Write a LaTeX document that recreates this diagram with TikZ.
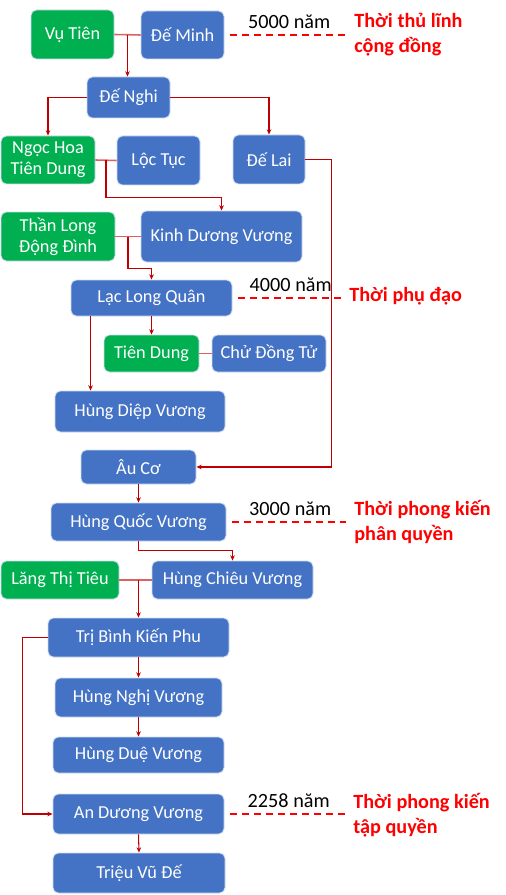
\documentclass[tikz,border=0pt]{standalone}
\usepackage{fontspec}
\setmainfont{Carlito}
\usetikzlibrary{arrows.meta, calc}
\definecolor{boxblue}{RGB}{68,114,196}
\definecolor{boxgreen}{RGB}{0,176,80}
\definecolor{linkred}{RGB}{192,0,0}
\definecolor{tiered}{RGB}{222,96,96}
\definecolor{erared}{RGB}{255,0,0}

\begin{document}
\begin{tikzpicture}[
    x=0.02cm, y=-0.02cm,
    >={Stealth[length=3pt,width=2.6pt]},
    person/.style={draw=white!75!boxblue, line width=0.5pt, rounded corners=3pt,
        text=white, font=\fontsize{10.4}{12}\selectfont, align=center, inner sep=0pt},
    king/.style={person, fill=boxblue},
    queen/.style={person, fill=boxgreen},
    boxsize/.style 2 args={minimum width=#1*0.02cm, minimum height=#2*0.02cm},
    link/.style={->, linkred, line width=0.6pt},
    tie/.style={tiered, line width=0.9pt},
    era/.style={anchor=west, inner sep=0pt, align=left, erared,
        font=\fontsize{11.5}{14.2}\selectfont\bfseries},
    eraline/.style={erared, line width=0.7pt, dash pattern=on 4pt off 2.8pt,
        shorten <=0.12cm, shorten >=0.16cm},
    years/.style={font=\fontsize{11.5}{14}\selectfont, black, inner sep=3pt},
]

\useasboundingbox (0,0) rectangle (505,895);

%============================================================
% Generations (centre x, centre y in px of the page)
%============================================================
\node[queen, boxsize={83}{49}]  (vutien)    at (72.5,34.5)  {Vụ Tiên};
\node[king,  boxsize={83}{48}]  (deminh)    at (182.5,35)   {Đế Minh};
\node[king,  boxsize={83}{41}]  (denghi)    at (128.5,97.5) {Đế Nghi};
\node[queen, boxsize={94}{48}]  (ngochoa)   at (48,160)     {Ngọc Hoa\\Tiên Dung};
\node[king,  boxsize={83}{49}]  (loctuc)    at (158.5,160.5){Lộc Tục};
\node[king,  boxsize={72}{49}]  (delai)     at (269,159.5)  {Đế Lai};
\node[queen, boxsize={114}{49}] (thanlong)  at (58,236.5)   {Thần Long\\Động Đình};
\node[king,  boxsize={161}{51}] (kinhduong) at (221.5,236.5){Kinh Dương Vương};
\node[king,  boxsize={161}{36}] (laclong)   at (151.5,298)  {Lạc Long Quân};
\node[queen, boxsize={95}{37}]  (tiendung)  at (151.5,353.5){Tiên Dung};
\node[king,  boxsize={114}{37}] (chudong)   at (269,353.5)  {Chử Đồng Tử};
\node[king,  boxsize={170}{41}] (hungdiep)  at (140,411.5)  {Hùng Diệp Vương};
\node[king,  boxsize={115}{34}] (auco)      at (138.5,467)  {Âu Cơ};
\node[king,  boxsize={175}{38}] (hungquoc)  at (138.5,522)  {Hùng Quốc Vương};
\node[queen, boxsize={118}{38}] (langthi)   at (60,580)     {Lăng Thị Tiêu};
\node[king,  boxsize={161}{38}] (hungchieu) at (232.5,580)  {Hùng Chiêu Vương};
\node[king,  boxsize={181}{39}] (tribinh)   at (138.5,637.5){Trị Bình Kiến Phu};
\node[king,  boxsize={167}{39}] (hungnghi)  at (138.5,697.5){Hùng Nghị Vương};
\node[king,  boxsize={171}{36}] (hungdue)   at (138.5,755)  {Hùng Duệ Vương};
\node[king,  boxsize={171}{40}] (anduong)   at (138.5,814)  {An Dương Vương};
\node[king,  boxsize={172}{40}] (trieuvu)   at (139,873)    {Triệu Vũ Đế};

%============================================================
% Couples and descent
%============================================================
\draw[tie] (vutien.east) -- (deminh.west);
\coordinate (m1) at ($(vutien.east)!0.5!(deminh.west)$);
\draw[link] (m1) -- (m1 |- denghi.north);

\draw[link] (denghi.west) -| (ngochoa.north);
\draw[link] (denghi.east) -| (delai.north);

\draw[tie] (ngochoa.east) -- (loctuc.west);
\coordinate (m2) at ($(ngochoa.east)!0.5!(loctuc.west)$);
\draw[link] (m2) -- ++(0,37) -| (kinhduong.north);

% Đế Lai down the right side to Âu Cơ
\draw[link] (delai.east) -- ++(26,0) |- (auco.east);

\draw[tie] (thanlong.east) -- (kinhduong.west);
\coordinate (m3) at ($(thanlong.east)!0.5!(kinhduong.west)$);
\draw[link] (m3) -- ++(0,32) -| (laclong.north);

\draw[link] (laclong.south) -- (tiendung.north);
\draw[tie] (tiendung.east) -- (chudong.west);
\path (laclong.south west) ++(20,0) coordinate (d1);
\draw[link] (d1) -- (d1 |- hungdiep.north);

\draw[link] (auco.south) -- (hungquoc.north);
\draw[link] (hungquoc.south) -- ++(0,9) -| (hungchieu.north);

\draw[tie] (langthi.east) -- (hungchieu.west);
\coordinate (m4) at ($(langthi.east)!0.5!(hungchieu.west)$);
\draw[link] (m4 -| tribinh.north) -- (tribinh.north);

\draw[link] (tribinh.south) -- (hungnghi.north);
\draw[link] (hungnghi.south) -- (hungdue.north);
\draw[link] (tribinh.west) -- ++(-25,0) |- (anduong.west);
\draw[link] (anduong.south) -- (trieuvu.north);

%============================================================
% Eras
%============================================================
\node[era] (era1) at (354,35)  {Thời thủ lĩnh\\cộng đồng};
\node[era] (era2) at (349,296) {Thời phụ đạo};
\node[era] (era3) at (354,522) {Thời phong kiến\\phân quyền};
\node[era] (era4) at (353,815) {Thời phong kiến\\tập quyền};

\draw[eraline] (deminh.east) -- (deminh.east -| era1.west)
    node[years, midway, above] (yr1) {5000 năm};
\draw[eraline] (laclong.east) -- (laclong.east -| era2.west)
    node[years, midway, above] (yr2) {4000 năm};
\draw[eraline] (hungquoc.east) -- (hungquoc.east -| era3.west)
    node[years, midway, above] (yr3) {3000 năm};
\draw[eraline] (anduong.east) -- (anduong.east -| era4.west)
    node[years, midway, above] (yr4) {2258 năm};

\end{tikzpicture}
\end{document}
